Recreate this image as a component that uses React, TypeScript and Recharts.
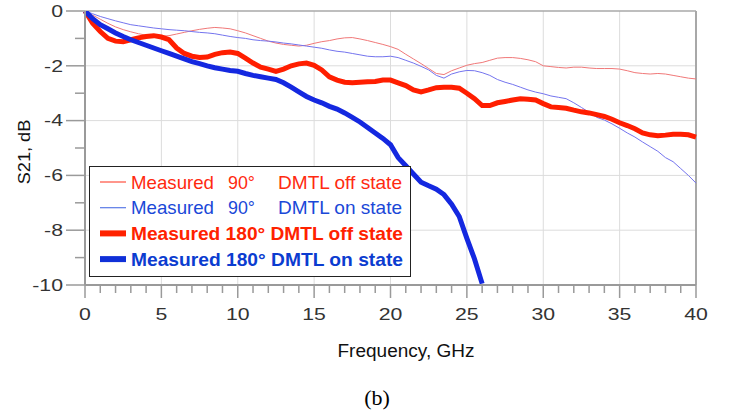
import { LineChart, Line, XAxis, YAxis, CartesianGrid, ReferenceLine, Legend } from "recharts"

const freq = [
  0, 0.5, 1, 1.5, 2, 2.5, 3, 3.5, 4, 4.5, 5, 5.5, 6, 6.5, 7, 7.5, 8, 8.5, 9, 9.5,
  10, 10.5, 11, 11.5, 12, 12.5, 13, 13.5, 14, 14.5, 15, 15.5, 16, 16.5, 17, 17.5, 18, 18.5, 19, 19.5,
  20, 20.5, 21, 21.5, 22, 22.5, 23, 23.5, 24, 24.5, 25, 25.5, 26, 26.5, 27, 27.5, 28, 28.5, 29, 29.5,
  30, 30.5, 31, 31.5, 32, 32.5, 33, 33.5, 34, 34.5, 35, 35.5, 36, 36.5, 37, 37.5, 38, 38.5, 39, 39.5, 40,
]

const off90 = [
  0, -0.15, -0.3, -0.45, -0.58, -0.68, -0.76, -0.83, -0.88, -0.9, -0.92, -0.9, -0.84, -0.78, -0.72, -0.67, -0.63, -0.6, -0.62, -0.65,
  -0.72, -0.8, -0.9, -1.0, -1.1, -1.17, -1.22, -1.25, -1.28, -1.25, -1.18, -1.12, -1.08, -1.02, -0.98, -0.97, -1.02, -1.08, -1.15, -1.22,
  -1.3, -1.4, -1.58, -1.75, -1.92, -2.1, -2.28, -2.32, -2.18, -2.08, -1.98, -1.92, -1.88, -1.8, -1.72, -1.7, -1.7, -1.73, -1.78, -1.85,
  -2.0, -2.03, -2.06, -2.08, -2.05, -2.05, -2.08, -2.1, -2.1, -2.1, -2.12, -2.18, -2.25, -2.28, -2.3, -2.28, -2.3, -2.35, -2.4, -2.45, -2.48,
]

const on90 = [
  0, -0.1, -0.2, -0.28, -0.36, -0.43, -0.5, -0.54, -0.58, -0.62, -0.65, -0.68, -0.7, -0.72, -0.75, -0.78, -0.8, -0.83, -0.88, -0.93,
  -0.97, -1.0, -1.05, -1.08, -1.1, -1.13, -1.17, -1.2, -1.24, -1.28, -1.32, -1.36, -1.42, -1.47, -1.5, -1.55, -1.6, -1.65, -1.67, -1.67,
  -1.65, -1.7, -1.8, -1.9, -2.02, -2.15, -2.35, -2.45, -2.3, -2.22, -2.17, -2.18, -2.25, -2.35, -2.5, -2.6, -2.68, -2.78, -2.88, -2.96,
  -3.02, -3.1, -3.15, -3.2, -3.35, -3.52, -3.7, -3.88, -3.98, -4.12, -4.28, -4.45, -4.6, -4.78, -4.95, -5.12, -5.35, -5.5, -5.75, -6.0, -6.28,
]

const off180 = [
  0, -0.45, -0.75, -1.0, -1.1, -1.12, -1.05, -0.98, -0.93, -0.9, -0.95, -1.05, -1.35, -1.55, -1.65, -1.7, -1.68, -1.58, -1.52, -1.5,
  -1.55, -1.72, -1.9, -2.05, -2.12, -2.2, -2.12, -2.0, -1.93, -1.9, -1.98, -2.15, -2.4, -2.52, -2.6, -2.62, -2.6, -2.58, -2.57, -2.52,
  -2.52, -2.62, -2.72, -2.88, -2.95, -2.88, -2.8, -2.78, -2.78, -2.82, -3.0, -3.2, -3.45, -3.45, -3.35, -3.3, -3.25, -3.2, -3.22, -3.25,
  -3.38, -3.5, -3.52, -3.55, -3.62, -3.68, -3.72, -3.78, -3.85, -3.95, -4.08, -4.18, -4.3, -4.45, -4.52, -4.55, -4.53, -4.5, -4.5, -4.52, -4.6,
]

const on180 = [
  0, -0.28, -0.5, -0.65, -0.8, -0.93, -1.05, -1.15, -1.25, -1.35, -1.45, -1.55, -1.65, -1.75, -1.85, -1.92, -2.0, -2.07, -2.12, -2.17,
  -2.2, -2.28, -2.35, -2.4, -2.45, -2.5, -2.62, -2.78, -2.95, -3.12, -3.25, -3.35, -3.48, -3.58, -3.72, -3.88, -4.05, -4.25, -4.45, -4.65,
  -4.88, -5.35, -5.65, -5.95, -6.25, -6.38, -6.5, -6.7, -7.05, -7.5, -8.3, -9.05, -9.95,
]

const xTicks = [0, 1, 2, 3, 4, 5, 6, 7, 8, 9, 10, 11, 12, 13, 14, 15, 16, 17, 18, 19, 20, 21, 22, 23, 24, 25, 26, 27, 28, 29, 30, 31, 32, 33, 34, 35, 36, 37, 38, 39, 40]
const yTicks = [-10, -9, -8, -7, -6, -5, -4, -3, -2, -1, 0]

const legendRows = [
  { lead: "Measured", angle: "90°", state: "DMTL off state", color: "#ff2a10", line: "#ff5040", bold: false },
  { lead: "Measured", angle: "90°", state: "DMTL on state", color: "#1a48d8", line: "#5a7ae6", bold: false },
  { lead: "Measured 180° DMTL off state", angle: "", state: "", color: "#ff2200", line: "#ff2200", bold: true },
  { lead: "Measured 180° DMTL on state", angle: "", state: "", color: "#0b3cd0", line: "#1030d8", bold: true },
]

const data = freq.map((f, i) => ({
  f,
  off90: off90[i],
  on90: on90[i],
  off180: off180[i],
  on180: i < on180.length ? on180[i] : null,
}))

const FONT = "'Liberation Sans', Arial, sans-serif"

function XTick(props: any) {
  const { x, payload } = props
  const v = payload.value
  const major = v % 5 === 0
  return (
    <g>
      <line x1={x} x2={x} y1={285} y2={major ? 298 : 293} stroke="#9a9a9a" strokeWidth={1.5} />
      {major && (
        <text
          transform={`translate(${x},314) scale(1.25,1)`}
          textAnchor="middle"
          dominantBaseline="central"
          fontSize={17}
          fontFamily={FONT}
          fill="#333"
        >
          {v}
        </text>
      )}
    </g>
  )
}

function YTick(props: any) {
  const { y, payload } = props
  const v = payload.value
  const major = v % 2 === 0
  return (
    <g>
      <line x1={85} x2={major ? 66 : 75} y1={y} y2={y} stroke="#9a9a9a" strokeWidth={1.5} />
      {major && (
        <text
          transform={`translate(63,${y}) scale(1.25,1)`}
          textAnchor="end"
          dominantBaseline="central"
          fontSize={17}
          fontFamily={FONT}
          fill="#333"
        >
          {v}
        </text>
      )}
    </g>
  )
}

function LegendBox() {
  return (
    <svg width={322} height={111} style={{ display: "block" }}>
      <rect x={0.5} y={0.5} width={321} height={110} fill="#fff" stroke="#222" strokeWidth={1} />
      {legendRows.map((r, i) => {
        const cy = 16 + i * 25.7
        return (
          <g key={i}>
            <line x1={11} x2={37} y1={cy} y2={cy} stroke={r.line} strokeWidth={r.bold ? 6 : 1.2} />
            {r.bold ? (
              <text x={42} y={cy} dominantBaseline="central" fontSize={18.5} fontWeight="bold" fontFamily={FONT} fill={r.color} textLength={272} lengthAdjust="spacingAndGlyphs">
                {r.lead}
              </text>
            ) : (
              <g fontSize={18.5} fontFamily={FONT} fill={r.color}>
                <text x={42} y={cy} dominantBaseline="central" textLength={83} lengthAdjust="spacingAndGlyphs">{r.lead}</text>
                <text x={139} y={cy} dominantBaseline="central" textLength={27} lengthAdjust="spacingAndGlyphs">{r.angle}</text>
                <text x={189} y={cy} dominantBaseline="central" textLength={124} lengthAdjust="spacingAndGlyphs">{r.state}</text>
              </g>
            )}
          </g>
        )
      })}
    </svg>
  )
}

export default function App() {
  return (
    <div style={{ position: "absolute", left: 0, top: 0, width: 730, height: 416, background: "#fff" }}>
      <LineChart width={730} height={416} data={data} margin={{ top: 11, right: 34, left: 25, bottom: 101 }}>
        <CartesianGrid stroke="#dcdcdc" horizontalValues={[-8, -6, -4, -2]} verticalValues={[5, 10, 15, 20, 25, 30, 35]} />
        <XAxis
          dataKey="f"
          type="number"
          domain={[0, 40]}
          ticks={xTicks}
          interval={0}
          height={30}
          tickLine={false}
          tick={<XTick />}
          axisLine={{ stroke: "#9a9a9a", strokeWidth: 2 }}
        />
        <YAxis
          type="number"
          domain={[-10, 0]}
          ticks={yTicks}
          interval={0}
          width={60}
          tickLine={false}
          tick={<YTick />}
          axisLine={{ stroke: "#9a9a9a", strokeWidth: 2 }}
          allowDataOverflow
        />
        <ReferenceLine y={0} stroke="#a8a8a8" strokeWidth={1.5} />
        <ReferenceLine x={40} stroke="#a8a8a8" strokeWidth={2} />
        <Legend
          layout="vertical"
          align="center"
          verticalAlign="middle"
          content={() => <LegendBox />}
          wrapperStyle={{ position: "absolute", left: 89, top: 166, width: 322, height: 111 }}
        />
        <Line dataKey="off90" stroke="#f07878" strokeWidth={1} dot={false} isAnimationActive={false} />
        <Line dataKey="on90" stroke="#7474ee" strokeWidth={1} dot={false} isAnimationActive={false} />
        <Line dataKey="off180" stroke="#ff1e00" strokeWidth={5} dot={false} isAnimationActive={false} />
        <Line dataKey="on180" stroke="#1428e0" strokeWidth={5} dot={false} isAnimationActive={false} />
      </LineChart>
      <div style={{ position: "absolute", left: 0, top: 0, width: 730, height: 416, pointerEvents: "none" }}>
        <svg width={730} height={416}>
          <text transform="translate(24,152) rotate(-90) scale(1.1,1)" textAnchor="middle" dominantBaseline="central" fontSize={16.5} fontFamily={FONT} fill="#111">
            S21, dB
          </text>
          <text x={406} y={351} textAnchor="middle" dominantBaseline="central" fontSize={17.5} fontFamily={FONT} fill="#111" textLength={137} lengthAdjust="spacingAndGlyphs">
            Frequency, GHz
          </text>
          <text x={377} y={397} textAnchor="middle" dominantBaseline="central" fontSize={22} fontFamily="'Liberation Serif', 'Times New Roman', serif" fill="#000">
            (b)
          </text>
        </svg>
      </div>
    </div>
  )
}
